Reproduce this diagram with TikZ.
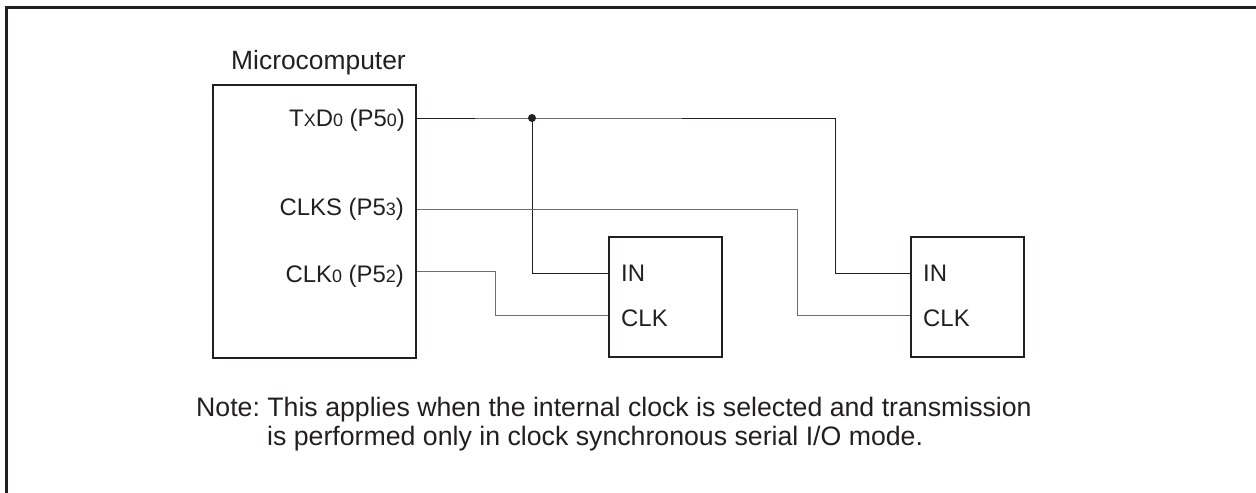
\documentclass[tikz,border=0pt]{standalone}
\usepackage{fontspec}
\setmainfont{Liberation Sans}
\usetikzlibrary{calc}
\definecolor{Ink}{HTML}{231F20}
\newcommand{\lowidx}[1]{{\fontsize{18}{20}\selectfont #1}}
\frenchspacing
\begin{document}
\begin{tikzpicture}[x=1bp,y=-1bp,font=\fontsize{24}{28}\selectfont,text=Ink,
  wire/.style={Ink,line width=0.8pt},
  clkwire/.style={Ink!65,line width=0.9pt},
  chip/.style={draw=Ink,line width=1.6pt,inner sep=0pt,anchor=north west},
  lbl/.style={inner sep=0pt},
  notetext/.style={lbl,anchor=base west,font=\fontsize{26.8}{30}\selectfont}]
\useasboundingbox (0,0) rectangle (1256,493);
\draw[Ink,line width=2.2pt] (6.5,493) -- (6.5,7.5) -- (1256,7.5);
\node[chip,minimum width=203bp,minimum height=273bp] (mcu) at (212,84) {};
\node[chip,minimum width=113bp,minimum height=120bp] (regA) at (608,236) {};
\node[chip,minimum width=113bp,minimum height=120bp] (regB) at (910,236) {};
\node[lbl,anchor=base west,font=\fontsize{26.5}{30}\selectfont] (title) at (231,70) {Microcomputer};
\node[lbl,anchor=base east] (txd) at (405,127) {T{\lowidx{X}}D\lowidx{0} (P5\lowidx{0})};
\node[lbl,anchor=base east] (clks) at (404,216) {CLKS (P5\lowidx{3})};
\node[lbl,anchor=base east] (clk) at (404,283) {CLK\lowidx{0} (P5\lowidx{2})};
\node[lbl,anchor=base west] (inA) at (621,282) {IN};
\node[lbl,anchor=base west] (clkA) at (621,327) {CLK};
\node[lbl,anchor=base west] (inB) at (923,282) {IN};
\node[lbl,anchor=base west] (clkB) at (923,327) {CLK};
\coordinate (txdout) at (mcu.east |- 0,118);
\coordinate (clksout) at (mcu.east |- 0,209);
\coordinate (clkout) at (mcu.east |- 0,271);
\coordinate (inApin) at (regA.west |- 0,273);
\coordinate (clkApin) at (regA.west |- 0,315);
\coordinate (inBpin) at (regB.west |- 0,273);
\coordinate (clkBpin) at (regB.west |- 0,315);
\fill[Ink] (532,118) circle (4) coordinate (dot);
\draw[wire] (txdout) -- (dot) -- (835,118) -- (835,273) -- (inBpin);
\draw[wire] (dot) -- (532,273) -- (inApin);
\draw[clkwire] (clksout) -- (797,209) -- (797,315) -- (clkBpin);
\draw[clkwire] (clkout) -- (495,271) -- (495,315) -- (clkApin);
\node[notetext] (note1) at (196,416) {Note: This applies when the internal clock is selected and transmission};
\node[notetext] (note2) at (267,445) {is performed only in clock synchronous serial I/O mode.};
\end{tikzpicture}
\end{document}
